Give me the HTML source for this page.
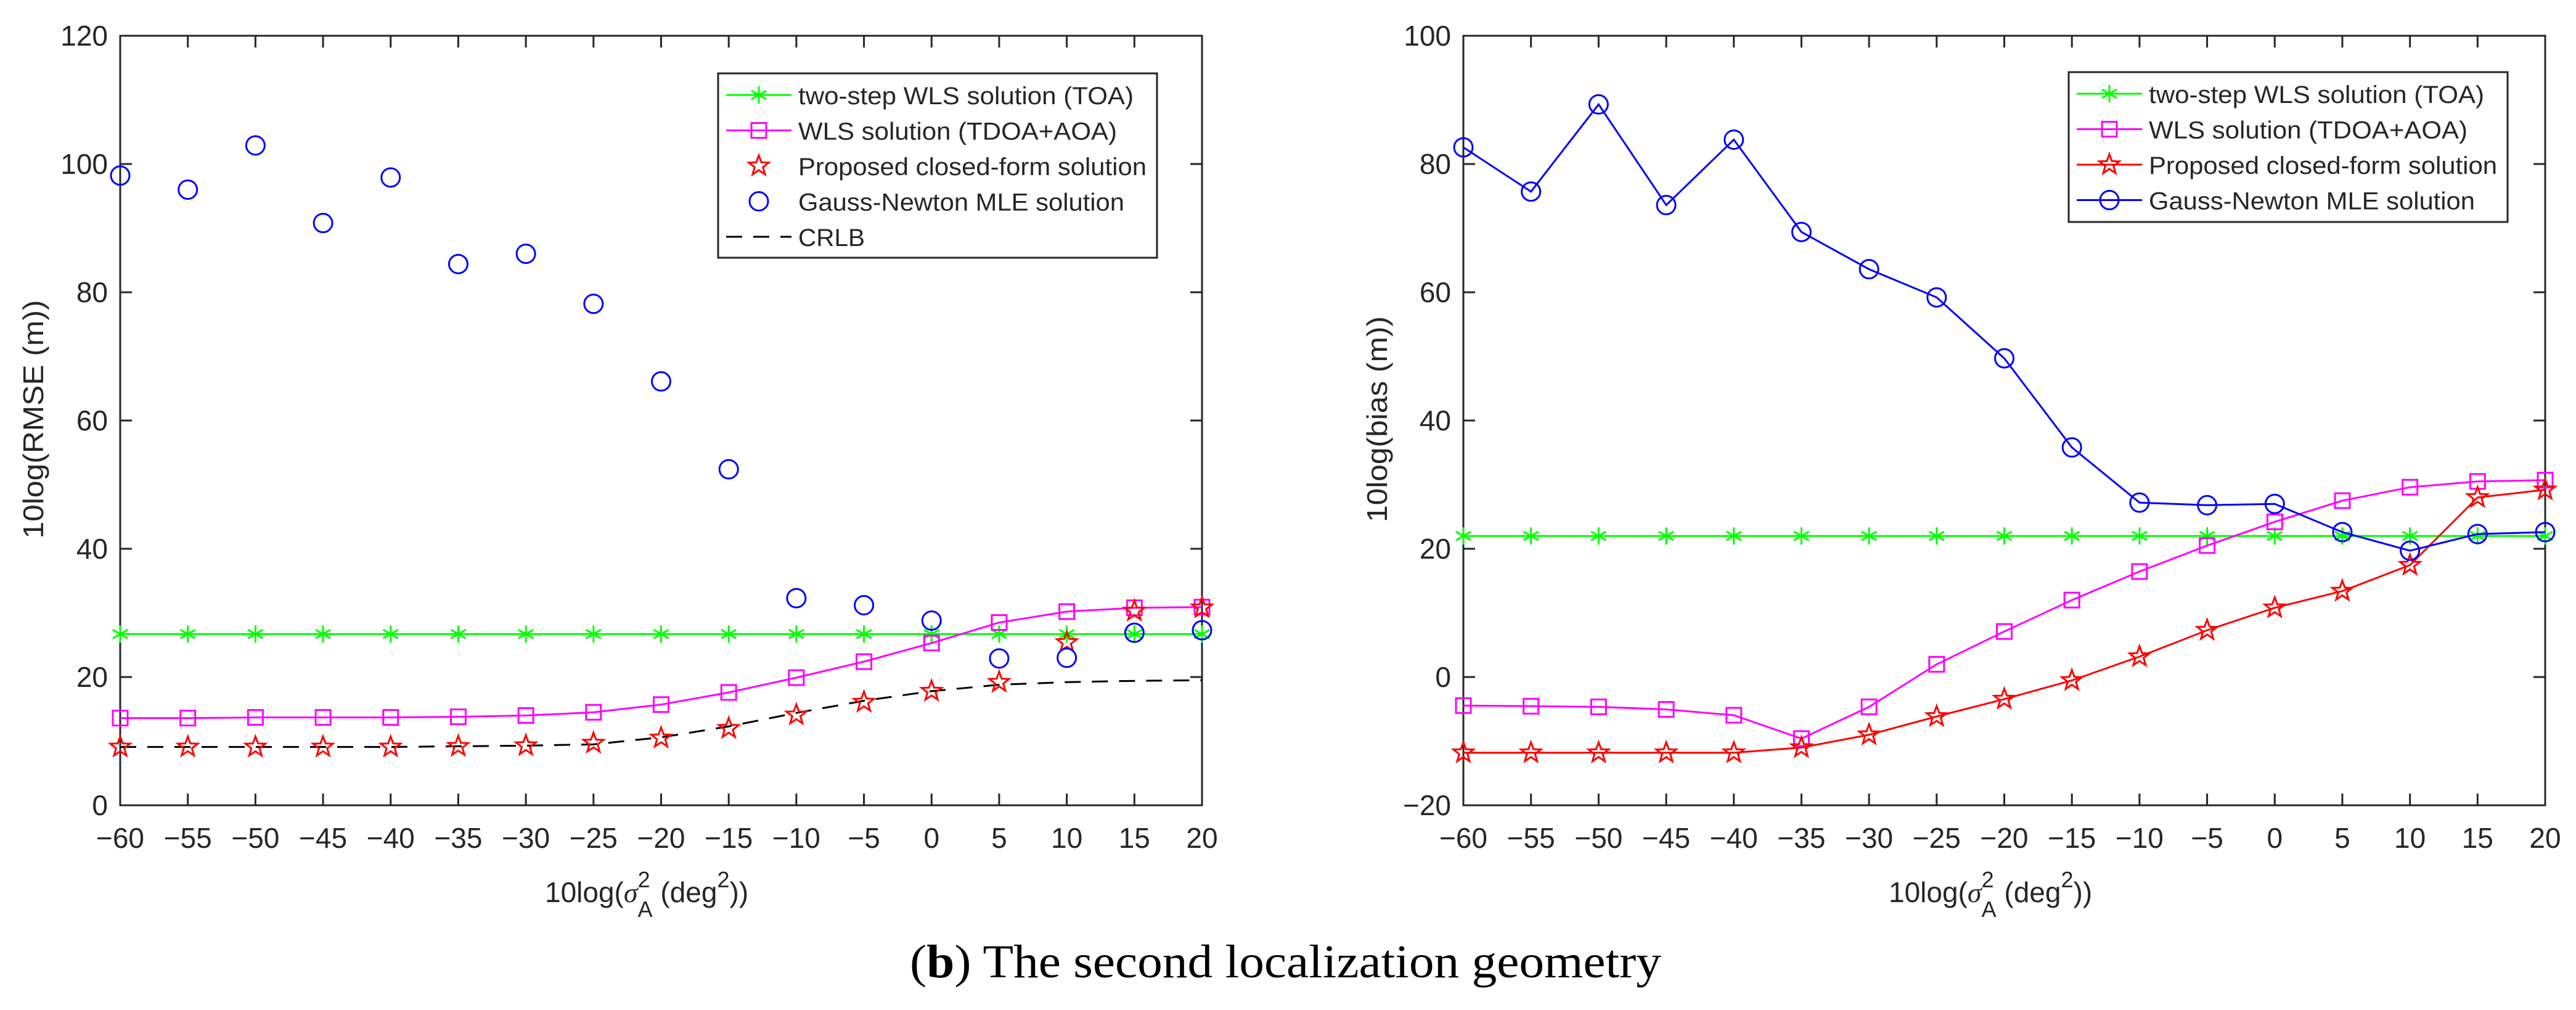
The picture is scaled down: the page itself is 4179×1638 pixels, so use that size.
<!DOCTYPE html>
<html><head><meta charset="utf-8"><style>
html,body{margin:0;padding:0;background:#fff;}
svg{display:block;}
text{font-family:"Liberation Sans",Arial,sans-serif;fill:#262626;}
</style></head><body>
<svg id="chart" xmlns="http://www.w3.org/2000/svg" width="4179" height="1638" viewBox="0 0 4179 1638">
<text x="1476" y="1585" textLength="1219" lengthAdjust="spacingAndGlyphs" style="font-family:'Liberation Serif',serif;font-size:76px;fill:#000">(<tspan font-weight="bold">b</tspan>) The second localization geometry</text>
</svg>
<script>
const xCategories = [-60,-55,-50,-45,-40,-35,-30,-25,-20,-15,-10,-5,0,5,10,15,20];
const xTickLabels = ['−60','−55','−50','−45','−40','−35','−30','−25','−20','−15','−10','−5','0','5','10','15','20'];
// left plot (RMSE)
const rmseTOA  = [26.7,26.7,26.7,26.7,26.7,26.7,26.7,26.7,26.7,26.7,26.7,26.7,26.7,26.7,26.7,26.7,26.7];
const rmseWLS  = [13.6,13.6,13.7,13.7,13.7,13.8,14.0,14.5,15.7,17.6,19.9,22.4,25.3,28.5,30.2,30.8,30.9];
const rmseProp = [9.1,9.1,9.1,9.1,9.1,9.2,9.3,9.7,10.5,12.0,14.1,16.1,17.8,19.2,25.4,30.3,30.8];
const rmseGN   = [98.2,96.0,102.9,90.8,97.9,84.4,86.0,78.2,66.1,52.4,32.3,31.2,28.8,22.9,23.0,26.9,27.3];
const rmseCRLB = [9.1,9.1,9.1,9.1,9.1,9.2,9.3,9.5,10.6,12.3,14.4,16.3,17.8,18.8,19.2,19.4,19.5];
const rmseYTicks = [0,20,40,60,80,100,120];
// right plot (bias)
const biasTOA  = [22,22,22,22,22,22,22,22,22,22,22,22,22,22,22,22,22];
const biasWLS  = [-4.45,-4.55,-4.65,-5.05,-5.96,-9.6,-4.65,1.98,7.1,12.0,16.45,20.5,24.2,27.5,29.6,30.5,30.7];
const biasProp = [-11.8,-11.8,-11.8,-11.8,-11.8,-11.0,-9.0,-6.15,-3.44,-0.53,3.18,7.3,10.8,13.4,17.45,28.0,29.2];
const biasGN   = [82.6,75.7,89.3,73.6,83.8,69.4,63.6,59.2,49.7,35.8,27.2,26.8,27.0,22.6,19.7,22.3,22.6];
const biasYTicks = [-20,0,20,40,60,80,100];

const NS='http://www.w3.org/2000/svg';
const svg=document.getElementById('chart');
function mk(tag,attrs,parent){const e=document.createElementNS(NS,tag);for(const k in attrs)e.setAttribute(k,attrs[k]);(parent||svg).appendChild(e);return e;}

function marker(g,type,cx,cy,color){
  let e;
  if(type==='circle'){e=mk('circle',{cx:cx,cy:cy,r:15,fill:'none',stroke:color,'stroke-width':3},g);}
  else if(type==='square'){e=mk('rect',{x:cx-12,y:cy-12,width:24,height:24,fill:'none',stroke:color,'stroke-width':3},g);}
  else if(type==='star'){let p=[];for(let i=0;i<10;i++){const r=i%2?7:17;const a=-Math.PI/2+i*Math.PI/5;p.push((cx+r*Math.cos(a)).toFixed(1)+','+(cy+r*Math.sin(a)).toFixed(1));}
    e=mk('polygon',{points:p.join(' '),fill:'none',stroke:color,'stroke-width':3},g);}
  else if(type==='asterisk'){let d='';for(let i=0;i<3;i++){const a=Math.PI/2+i*Math.PI/3;const dx=14*Math.cos(a),dy=14*Math.sin(a);d+=`M${cx-dx},${cy-dy}L${cx+dx},${cy+dy}`;}
    e=mk('path',{d:d,stroke:color,'stroke-width':3,fill:'none'},g);}
  return e;
}

function plot(cfg){
  const {L,R,T,B,ymin,ymax,yTicks,series,legend,ylabel,yl}=cfg;
  const xs=v=>L+(v-(-60))/(80)*(R-L);
  const ys=v=>B-(v-ymin)/(ymax-ymin)*(B-T);
  const g=mk('g',{});
  
  
  // ticks
  xCategories.forEach((c,i)=>{
    const x=xs(c);
    const t=mk('path',{d:`M${x},${B}V${B-19}M${x},${T}V${T+19}`,stroke:'#262626','stroke-width':3},g);
    
    
    const tx=mk('text',{x:x,y:1375,'text-anchor':'middle','font-size':46},g);
    tx.textContent=xTickLabels[i];
    
    
  });
  yTicks.forEach(v=>{
    const y=ys(v);
    const t=mk('path',{d:`M${L},${y}H${L+19}M${R},${y}H${R-19}`,stroke:'#262626','stroke-width':3},g);
    
    
    const tx=mk('text',{x:L-20,y:y+16,'text-anchor':'end','font-size':46},g);
    tx.textContent=String(v).replace('-','−');
    
    
  });
  const box=mk('rect',{x:L,y:T,width:R-L,height:B-T,fill:'none',stroke:'#262626','stroke-width':3},g);
  
  
  // series
  series.forEach(s=>{
    const sg=mk('g',{},g);
    
    
    if(s.line){
      const pts=s.data.map((v,i)=>xs(xCategories[i]).toFixed(1)+','+ys(v).toFixed(1)).join(' ');
      const attrs={points:pts,fill:'none',stroke:s.color,'stroke-width':s.dash?3:3};
      if(s.dash)attrs['stroke-dasharray']='26,18';
      mk('polyline',attrs,sg);
    }
    if(s.marker){s.data.forEach((v,i)=>marker(sg,s.marker,xs(xCategories[i]),ys(v),s.color));}
  });
  // legend
  const lg=mk('g',{},g);
  
  
  mk('rect',{x:legend.x,y:legend.y,width:legend.w,height:legend.h,fill:'#fff',stroke:'#262626','stroke-width':3},lg);
  legend.items.forEach((it,i)=>{
    const cy=legend.y+35+i*57.5;
    const eg=mk('g',{},lg);
    
    
    const lx=legend.x+13;
    if(it.line){const a={x1:lx,y1:cy,x2:lx+106,y2:cy,stroke:it.color,'stroke-width':3};if(it.dash)a['stroke-dasharray']='26,18';mk('line',a,eg);}
    if(it.marker)marker(eg,it.marker,lx+53,cy,it.color);
    const t=mk('text',{x:lx+117,y:cy+15,'font-size':40,textLength:it.tl,lengthAdjust:'spacingAndGlyphs'},eg);
    t.textContent=it.label;
  });
  // axis titles
  const xt=mk('text',{x:cfg.xtx,y:1463,'font-size':46},g);
  
  
  xt.innerHTML='10log(<tspan font-style="italic" style="font-family:\'Liberation Serif\',serif">σ</tspan><tspan dy="-24" font-size="36">2</tspan><tspan dx="-20" dy="48" font-size="36">A</tspan><tspan dy="-24"> (deg</tspan><tspan dy="-24" font-size="36">2</tspan><tspan dy="24">))</tspan>';
  const yt=mk('text',{x:0,y:0,'font-size':46,'text-anchor':'middle',transform:`translate(${yl.x},${yl.y}) rotate(-90)`,textLength:yl.len,lengthAdjust:'spacingAndGlyphs'},g);
  yt.textContent=ylabel;
  
  
}

plot({name:'rmse-chart',L:195,R:1950,T:58,B:1306,ymin:0,ymax:120,yTicks:rmseYTicks,
  series:[
    {name:'series-two-step-wls-toa',data:rmseTOA,color:'#00ff00',line:true,marker:'asterisk'},
    {name:'series-wls-tdoa-aoa',data:rmseWLS,color:'#ff00ff',line:true,marker:'square'},
    {name:'series-crlb',data:rmseCRLB,color:'#000',line:true,dash:true},
    {name:'series-proposed',data:rmseProp,color:'#ff0000',marker:'star'},
    {name:'series-gauss-newton',data:rmseGN,color:'#0000ff',marker:'circle'}],
  legend:{x:1165,y:119,w:712,h:299,items:[
    {label:'two-step WLS solution (TOA)',color:'#00ff00',line:true,marker:'asterisk',tl:544},
    {label:'WLS solution (TDOA+AOA)',color:'#ff00ff',line:true,marker:'square',tl:517},
    {label:'Proposed closed-form solution',color:'#ff0000',marker:'star',tl:565},
    {label:'Gauss-Newton MLE solution',color:'#0000ff',marker:'circle',tl:529},
    {label:'CRLB',color:'#000',line:true,dash:true,tl:108}]},
  ylabel:'10log(RMSE (m))',yl:{x:70,y:680,len:387},xtx:884});

plot({name:'bias-chart',L:2374,R:4129,T:58,B:1306,ymin:-20,ymax:100,yTicks:biasYTicks,
  series:[
    {name:'series-two-step-wls-toa',data:biasTOA,color:'#00ff00',line:true,marker:'asterisk'},
    {name:'series-wls-tdoa-aoa',data:biasWLS,color:'#ff00ff',line:true,marker:'square'},
    {name:'series-proposed',data:biasProp,color:'#ff0000',line:true,marker:'star'},
    {name:'series-gauss-newton',data:biasGN,color:'#0000ff',line:true,marker:'circle'}],
  legend:{x:3356,y:117,w:712,h:243,items:[
    {label:'two-step WLS solution (TOA)',color:'#00ff00',line:true,marker:'asterisk',tl:544},
    {label:'WLS solution (TDOA+AOA)',color:'#ff00ff',line:true,marker:'square',tl:517},
    {label:'Proposed closed-form solution',color:'#ff0000',line:true,marker:'star',tl:565},
    {label:'Gauss-Newton MLE solution',color:'#0000ff',line:true,marker:'circle',tl:529}]},
  ylabel:'10log(bias (m))',yl:{x:2250,y:680,len:334},xtx:3064});
</script>
</body></html>
